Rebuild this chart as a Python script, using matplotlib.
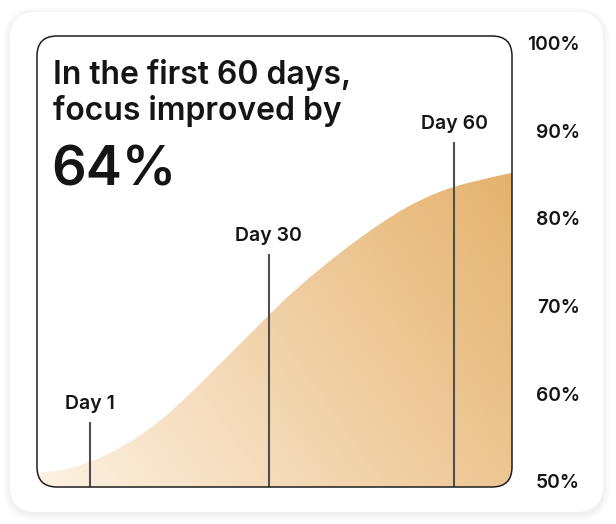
import numpy as np
import matplotlib
matplotlib.use('Agg')
import matplotlib.pyplot as plt
import matplotlib.patches as patches
from matplotlib.path import Path
from matplotlib.colors import to_rgb

plt.rcParams['font.family'] = ['Inter', 'DejaVu Sans']

# curve (day -> focus %)
days = [-7.5, -2.5, 2.5, 7.5, 12.5, 17.5, 22.5, 27.5, 32.5, 37.5, 42.5, 47.5, 52.5, 57.5, 62.5, 69.3]
focus = [51.0, 51.45, 52.65, 54.5, 57.0, 60.2, 63.7, 67.2, 70.7, 73.8, 76.6, 79.15, 81.35, 83.0, 84.1, 85.2]

marker_days = [1, 30, 60]
marker_labels = ['Day 1', 'Day 30', 'Day 60']
marker_tops = [56.8, 75.9, 88.7]

tick_values = [50, 60, 70, 80, 90, 100]
tick_labels = ['50%', '60%', '70%', '80%', '90%', '100%']

headline = ['In the first 60 days,', 'focus improved by']
big_number = '64%'

W, H = 616, 524
fig = plt.figure(figsize=(W / 100, H / 100), dpi=100, facecolor='white')

# background layer in pixel coords (y down)
bg = fig.add_axes([0, 0, 1, 1], zorder=0)
bg.set_xlim(0, W)
bg.set_ylim(H, 0)
bg.axis('off')

# soft shadow + card
for i in range(8):
    s = patches.FancyBboxPatch((10 - i, 12 - i + 2), 593 + 2 * i, 500 + 2 * i,
                               boxstyle='round,pad=0,rounding_size=%d' % (26 + i),
                               facecolor='black', edgecolor='none', alpha=0.006)
    bg.add_patch(s)
card = patches.FancyBboxPatch((10, 12), 593, 500, boxstyle='round,pad=0,rounding_size=26',
                              facecolor='white', edgecolor='none')
bg.add_patch(card)

# heading
bg.text(53, 84, headline[0], fontsize=23, fontweight='semibold', color='#151515', va='baseline')
bg.text(53, 120, headline[1], fontsize=23, fontweight='semibold', color='#151515', va='baseline')
bg.text(51, 186, big_number, fontsize=39, fontweight='semibold', color='#151515', va='baseline')

# data axes = inner box
bx, by, bw, bh = 37, 36, 475, 451
ax = fig.add_axes([bx / W, (H - by - bh) / H, bw / W, bh / H], zorder=1)
ax.patch.set_facecolor('none')
ax.set_xlim(-7.5, 69.3)
ax.set_ylim(49.37, 100.8)
for sp in ax.spines.values():
    sp.set_visible(False)
ax.set_xticks([])
ax.set_yticks(tick_values, tick_labels)
ax.yaxis.tick_right()
ax.tick_params(axis='y', length=0, pad=49, labelsize=13.8, labelcolor='#151515')
for lbl in ax.get_yticklabels():
    lbl.set_ha('right')
    lbl.set_fontweight('semibold')

# smooth area path through the read points (Catmull-Rom -> bezier)
pts = np.column_stack([days, focus])
y0 = ax.get_ylim()[0]
verts = [(days[0], y0), tuple(pts[0])]
codes = [Path.MOVETO, Path.LINETO]
n = len(pts)
for i in range(n - 1):
    p0 = pts[max(i - 1, 0)]
    p1 = pts[i]
    p2 = pts[i + 1]
    p3 = pts[min(i + 2, n - 1)]
    c1 = p1 + (p2 - p0) / 6
    c2 = p2 - (p3 - p1) / 6
    verts += [tuple(c1), tuple(c2), tuple(p2)]
    codes += [Path.CURVE4] * 3
verts += [(days[-1], y0), (days[0], y0)]
codes += [Path.LINETO, Path.CLOSEPOLY]
area = Path(verts, codes)

# diagonal gradient
c0 = np.array(to_rgb('#fdf2e4'))
c1 = np.array(to_rgb('#e5b26d'))
u = np.linspace(0, bw, 300)
v = np.linspace(0, bh, 300)
U, V = np.meshgrid(u, v)
t = np.clip((U + 0.7 * V) / (bw + 0.7 * 315), 0, 1)
img = c0[None, None, :] * (1 - t[..., None]) + c1[None, None, :] * t[..., None]
im = ax.imshow(img, extent=(-7.5, 69.3, 49.37, 100.8), origin='lower', aspect='auto',
               interpolation='bilinear', zorder=1)
im.set_clip_path(area, transform=ax.transData)

# day markers
ax.vlines(marker_days, y0, marker_tops, color='#4f4f4f', lw=1.5, zorder=3)
for d, top, lab in zip(marker_days, marker_tops, marker_labels):
    ax.annotate(lab, xy=(d, top), xytext=(0, 13), textcoords='offset points',
                ha='center', va='center', fontsize=14, fontweight='semibold', color='#151515')

# overlay: mask outside rounded box + border
ov = fig.add_axes([0, 0, 1, 1], zorder=2)
ov.set_xlim(0, W)
ov.set_ylim(H, 0)
ov.axis('off')
box = patches.FancyBboxPatch((bx, by), bw, bh, boxstyle='round,pad=0,rounding_size=20',
                             facecolor='none', edgecolor='#1e1e1e', lw=1.1, zorder=3)
inner = box.get_path().vertices
inner_codes = box.get_path().codes


def signed_area(p):
    x, y = p[:, 0], p[:, 1]
    return 0.5 * np.sum(x * np.roll(y, -1) - np.roll(x, -1) * y)


outer = np.array([(bx - 4, by - 4), (bx + bw + 4, by - 4), (bx + bw + 4, by + bh + 4),
                  (bx - 4, by + bh + 4), (bx - 4, by - 4)])
if np.sign(signed_area(outer[:-1])) == np.sign(signed_area(inner[:-1])):
    outer = outer[::-1]
mask = Path(np.vstack([outer, inner]),
            [Path.MOVETO] + [Path.LINETO] * 3 + [Path.CLOSEPOLY] + list(inner_codes))
ov.add_patch(patches.PathPatch(mask, facecolor='white', edgecolor='none', zorder=2))
ov.add_patch(box)

fig.savefig('out.png', dpi=100)
